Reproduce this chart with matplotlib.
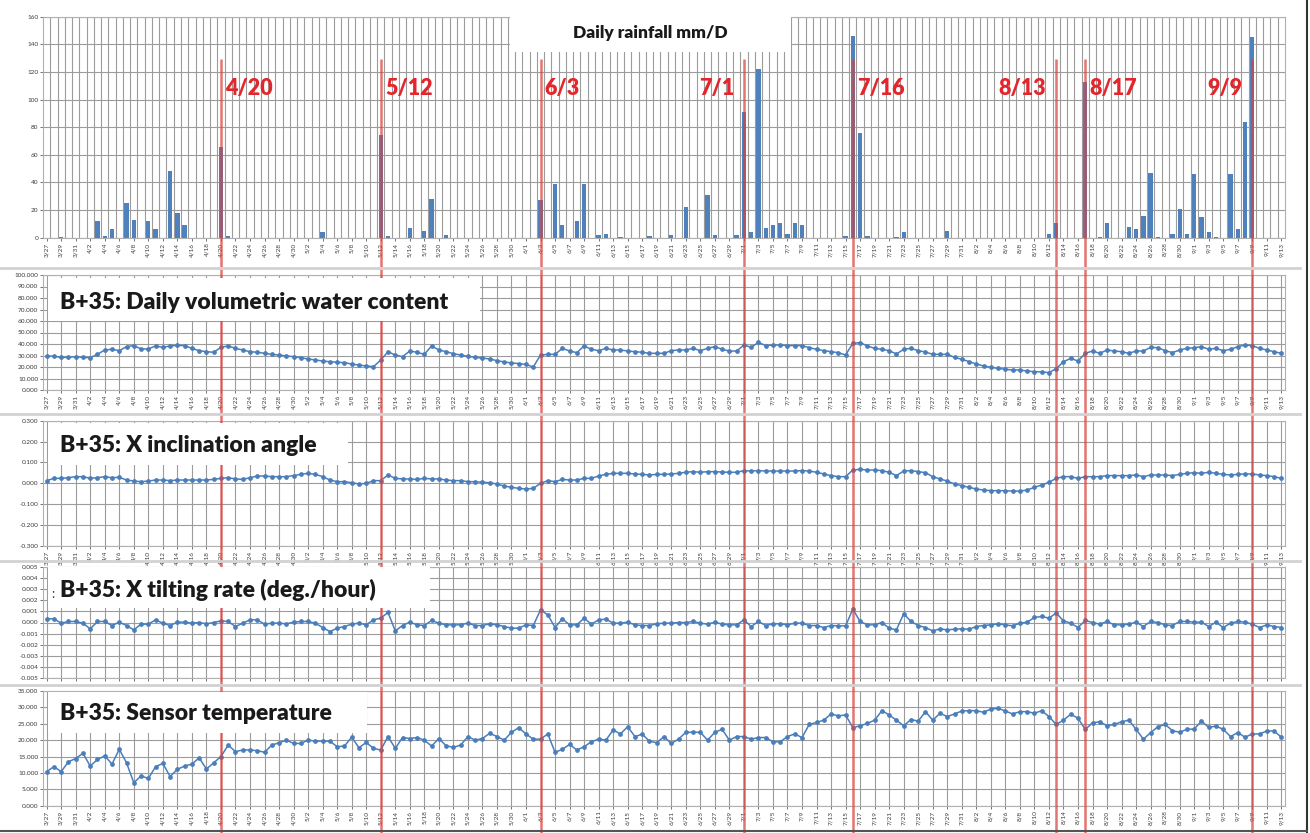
import matplotlib
matplotlib.use('Agg')
import matplotlib.pyplot as plt
import numpy as np
import pandas as pd
from matplotlib.patches import Rectangle
from matplotlib.lines import Line2D

# ---------------- data ----------------
dates = pd.date_range('2014-03-27', '2014-09-13', freq='D')
date_labels = [f"{d.month}/{d.day}" for d in dates]

rainfall = [0, 0, 0.5, 0, 0, 0, 0, 12, 1, 6,
            0, 25, 13, 0, 12, 6, 0, 48, 18, 9,
            0, 0, 0, 0, 66, 1, 0, 0, 0, 0,
            0, 0, 0, 0, 0, 0, 0, 0, 4, 0,
            0, 0, 0, 0, 0, 0, 74, 1, 0, 0,
            7, 0, 5, 28, 0, 2, 0, 0, 0, 0,
            0, 0, 0, 0, 0, 0, 0, 0, 27, 0,
            39, 9, 0, 12, 39, 0, 2, 3, 0, 0.5,
            0, 0, 0, 1, 0, 0, 2, 0, 22, 0,
            0, 31, 2, 0, 0, 2, 91, 4, 122, 7,
            9, 11, 3, 11, 9, 0, 0, 0, 0, 0,
            1, 146, 76, 1, 0, 0, 0, 0.5, 4, 0,
            0, 0, 0, 0, 5, 0, 0, 0, 0, 0,
            0, 0, 0, 0, 0, 0, 0, 0, 3, 11,
            0, 0, 0, 113, 0, 0.5, 11, 0, 0, 8,
            6, 16, 47, 0.5, 0, 3, 21, 3, 46, 15,
            4, 0.5, 0, 46, 6, 84, 145, 0, 0, 0,
            0]

vwc = [29.6, 29.3, 28.4, 28.4, 29.0, 28.4, 28.1, 31.0, 34.8, 35.4,
       34.2, 37.7, 38.6, 35.7, 35.7, 38.3, 37.1, 38.3, 38.8, 38.6,
       36.2, 34.2, 33.3, 32.8, 37.1, 38.3, 36.2, 34.8, 33.3, 32.8,
       31.9, 31.0, 30.4, 29.6, 29.0, 28.1, 27.0, 26.1, 25.2, 24.6,
       24.1, 23.8, 22.6, 21.7, 20.9, 20.3, 26.1, 33.3, 30.4, 29.0,
       33.9, 32.8, 31.0, 38.3, 34.8, 33.3, 31.6, 30.4, 29.3, 28.4,
       27.8, 27.0, 25.5, 24.4, 23.5, 23.0, 22.2, 20.0, 30.4, 31.0,
       31.0, 36.2, 33.9, 32.5, 38.3, 35.4, 34.2, 36.2, 34.8, 34.8,
       33.9, 33.3, 32.8, 31.9, 31.9, 31.9, 34.2, 34.8, 34.8, 36.2,
       34.2, 36.2, 37.7, 35.4, 33.9, 33.9, 39.1, 37.1, 41.4, 38.6,
       39.1, 39.1, 38.6, 38.6, 38.6, 36.8, 35.4, 34.2, 33.3, 32.5,
       30.4, 40.6, 41.2, 38.3, 36.2, 35.4, 34.2, 31.3, 35.4, 36.2,
       34.2, 33.0, 31.0, 31.0, 31.0, 28.4, 26.7, 24.6, 22.6, 20.9,
       19.7, 18.8, 18.0, 17.4, 17.4, 16.5, 15.9, 15.7, 15.1, 18.6,
       24.6, 27.5, 25.2, 31.9, 33.9, 31.9, 34.8, 33.9, 33.3, 31.9,
       33.9, 33.9, 37.1, 36.8, 34.2, 32.5, 34.8, 36.2, 36.8, 37.7,
       35.4, 36.2, 34.2, 35.4, 37.7, 39.1, 38.6, 36.2, 34.8, 33.3,
       31.9]

inclination = [0.013, 0.024, 0.024, 0.027, 0.032, 0.032, 0.024, 0.027, 0.032, 0.027,
               0.029, 0.016, 0.011, 0.008, 0.011, 0.016, 0.016, 0.013, 0.016, 0.016,
               0.016, 0.016, 0.016, 0.019, 0.024, 0.027, 0.021, 0.019, 0.027, 0.035,
               0.035, 0.032, 0.032, 0.032, 0.037, 0.043, 0.048, 0.043, 0.032, 0.016,
               0.008, 0.008, 0.003, -0.003, 0.000, 0.013, 0.013, 0.040, 0.024, 0.021,
               0.021, 0.019, 0.024, 0.021, 0.021, 0.016, 0.013, 0.013, 0.008, 0.008,
               0.005, 0.003, -0.003, -0.013, -0.019, -0.024, -0.027, -0.024, 0.000, 0.013,
               0.008, 0.019, 0.016, 0.016, 0.024, 0.024, 0.035, 0.043, 0.048, 0.048,
               0.048, 0.045, 0.043, 0.040, 0.043, 0.043, 0.045, 0.048, 0.053, 0.056,
               0.053, 0.056, 0.056, 0.054, 0.053, 0.053, 0.061, 0.059, 0.061, 0.059,
               0.059, 0.059, 0.059, 0.059, 0.061, 0.059, 0.053, 0.045, 0.037, 0.032,
               0.032, 0.064, 0.067, 0.064, 0.064, 0.061, 0.053, 0.037, 0.059, 0.061,
               0.056, 0.051, 0.032, 0.021, 0.011, -0.003, -0.011, -0.019, -0.027, -0.032,
               -0.035, -0.035, -0.035, -0.037, -0.037, -0.032, -0.019, -0.008, 0.005, 0.024,
               0.032, 0.032, 0.024, 0.032, 0.032, 0.032, 0.037, 0.037, 0.037, 0.037,
               0.040, 0.032, 0.040, 0.040, 0.040, 0.037, 0.043, 0.048, 0.051, 0.048,
               0.053, 0.048, 0.043, 0.040, 0.043, 0.045, 0.045, 0.040, 0.037, 0.032,
               0.024]

tilt_rate = [0.00033, 0.00033, -0.00006, 0.00009, 0.00009, -0.00006, -0.00057, 0.00009, 0.00009, -0.00027,
             0.00003, -0.00027, -0.00066, -0.00015, -0.00015, 0.00024, -0.00006, -0.00027, 0.00003, 0.00003,
             -0.00006, 0.00000, -0.00012, 0.00000, 0.00015, 0.00009, -0.00036, -0.00006, 0.00024, 0.00024,
             -0.00015, -0.00006, -0.00006, -0.00012, 0.00003, 0.00009, 0.00009, -0.00006, -0.00045, -0.00081,
             -0.00051, -0.00036, -0.00015, -0.00006, -0.00021, 0.00024, 0.00039, 0.00090, -0.00075, -0.00027,
             0.00003, -0.00021, -0.00027, 0.00018, -0.00006, -0.00021, -0.00021, -0.00021, -0.00006, -0.00027,
             -0.00027, -0.00012, -0.00021, -0.00036, -0.00051, -0.00051, -0.00021, -0.00027, 0.00113, 0.00069,
             -0.00045, 0.00033, -0.00021, -0.00021, 0.00039, -0.00015, 0.00024, 0.00030, -0.00006, -0.00006,
             0.00003, -0.00021, -0.00027, -0.00027, -0.00012, -0.00006, -0.00006, 0.00000, 0.00000, 0.00009,
             -0.00006, -0.00015, 0.00003, -0.00015, -0.00021, -0.00021, 0.00024, -0.00036, 0.00009, -0.00027,
             -0.00012, -0.00012, -0.00021, -0.00006, -0.00006, -0.00027, -0.00027, -0.00045, -0.00027, -0.00030,
             -0.00030, 0.00119, 0.00009, -0.00021, -0.00021, 0.00000, -0.00051, -0.00066, 0.00078, 0.00009,
             -0.00027, -0.00045, -0.00075, -0.00057, -0.00066, -0.00060, -0.00057, -0.00060, -0.00036, -0.00027,
             -0.00021, -0.00012, -0.00021, -0.00030, -0.00006, 0.00003, 0.00045, 0.00054, 0.00039, 0.00084,
             0.00015, -0.00006, -0.00045, 0.00018, 0.00000, -0.00015, 0.00009, -0.00021, -0.00021, -0.00015,
             0.00003, -0.00036, 0.00009, 0.00000, -0.00021, -0.00027, 0.00009, 0.00009, 0.00003, 0.00003,
             -0.00036, 0.00003, -0.00045, -0.00006, 0.00009, 0.00003, -0.00015, -0.00045, -0.00021, -0.00036,
             -0.00045]

temperature = [10.4, 11.9, 10.4, 13.4, 14.4, 16.0, 12.1, 14.1, 15.2, 12.7,
               17.2, 13.1, 7.0, 9.1, 8.3, 11.9, 12.9, 8.9, 11.1, 12.1,
               12.7, 14.6, 11.2, 13.1, 15.0, 18.5, 16.5, 17.0, 17.0, 16.8,
               16.3, 18.5, 19.2, 20.0, 19.0, 19.0, 20.0, 19.7, 19.7, 19.7,
               18.0, 18.2, 20.9, 17.7, 19.3, 17.5, 17.0, 21.1, 17.5, 20.8,
               20.5, 20.8, 20.0, 18.2, 20.5, 18.3, 17.8, 18.5, 21.1, 20.0,
               20.5, 22.1, 21.1, 20.0, 22.4, 23.8, 21.9, 20.3, 20.3, 21.9,
               16.3, 17.2, 18.7, 17.0, 18.0, 19.5, 20.3, 20.0, 23.1, 21.9,
               24.1, 21.1, 21.8, 19.7, 19.2, 21.1, 19.0, 20.3, 22.4, 22.4,
               22.4, 20.0, 22.4, 23.3, 20.0, 21.1, 21.1, 20.3, 20.8, 20.8,
               19.5, 19.5, 21.1, 21.9, 20.8, 24.8, 25.4, 26.1, 28.0, 27.4,
               27.7, 23.8, 24.4, 25.1, 26.1, 29.0, 27.7, 26.1, 24.4, 26.3,
               25.8, 28.7, 26.1, 28.2, 27.2, 28.0, 28.9, 29.0, 29.0, 28.5,
               29.5, 29.7, 28.9, 28.0, 28.7, 28.7, 28.2, 29.0, 27.2, 24.8,
               26.1, 27.9, 26.7, 23.3, 25.3, 25.6, 24.4, 24.8, 25.6, 26.1,
               23.3, 20.3, 22.3, 24.1, 24.8, 22.9, 22.4, 23.3, 23.4, 25.8,
               23.9, 24.3, 23.3, 21.1, 22.3, 20.9, 21.9, 21.9, 22.8, 22.8,
               20.9]

event_dates = ['4/20', '5/12', '6/3', '7/1', '7/16', '8/13', '8/17', '9/9']
event_label_side = ['right', 'right', 'right', 'left', 'right', 'left', 'right', 'left']

rain_title = 'Daily rainfall mm/D'
panel_titles = ['B+35: Daily volumetric water content',
                'B+35: X inclination angle',
                'B+35: X tilting rate (deg./hour)',
                'B+35: Sensor temperature']

# ---------------- styling ----------------
W, H = 1310, 833
BLUE = '#4a7ebb'
RED = '#d9403c'
GRID = '#9c9c9c'
TXT = '#3a3a3a'
FONT = ['Lato', 'DejaVu Sans']
plt.rcParams['font.family'] = FONT

fig = plt.figure(figsize=(W / 100, H / 100), dpi=100)
fig.patch.set_facecolor('white')

L, R = 43, 1285


def ax_at(top, bottom):
    return fig.add_axes([L / W, 1 - bottom / H, (R - L) / W, (bottom - top) / H])


x = np.arange(len(dates))
even = x[::2]


def style(ax, show_x=True):
    for s in ax.spines.values():
        s.set_color('#b0b0b0')
        s.set_linewidth(0.8)
    ax.tick_params(axis='both', labelsize=4.6, colors=TXT, length=2, width=0.5, pad=1.5)
    ax.set_xlim(-0.5, len(dates) - 0.5)
    ax.set_xticks(even)
    if show_x:
        ax.set_xticklabels([date_labels[i] for i in even], rotation=90)
    else:
        ax.set_xticklabels([])
    ax.set_axisbelow(True)


# Panel 1: rainfall
ax1 = ax_at(16.7, 237.7)
style(ax1)
ax1.bar(x, rainfall, width=0.6, color='#4f81bd', zorder=2)
ax1.set_ylim(0, 160)
ax1.set_yticks(np.arange(0, 161, 20))
ax1.set_xticks(x[:-1] + 0.5, minor=True)
ax1.tick_params(axis='x', which='minor', length=0)
ax1.grid(which='minor', axis='x', color=GRID, lw=0.8)
ax1.grid(which='major', axis='y', color=GRID, lw=0.8)

# Lower panels
specs = [
    (275, 390, vwc, (0, 100), np.arange(0, 101, 10), '{:.3f}', True),
    (420.7, 546, inclination, (-0.3, 0.3), np.round(np.arange(-0.3, 0.301, 0.1), 3), '{:.3f}', True),
    (566.7, 678.3, tilt_rate, (-0.005, 0.005), np.round(np.arange(-0.005, 0.00501, 0.001), 4), '{:.3f}', False),
    (691, 805.7, temperature, (0, 35), np.arange(0, 36, 5), '{:.3f}', True),
]
axes = [ax1]
for top, bot, series, ylim, yt, fmt, showx in specs:
    ax = ax_at(top, bot)
    style(ax, showx)
    ax.plot(x, series, color=BLUE, lw=1.1, marker='o', ms=2.4, zorder=3)
    ax.set_ylim(*ylim)
    ax.set_yticks(yt)
    ax.set_yticklabels([fmt.format(v) for v in yt])
    ax.grid(axis='both', color=GRID, lw=0.8)
    axes.append(ax)

# Event lines across all panels (overlay axes in pixel space vertically)
ov = fig.add_axes([L / W, 0, (R - L) / W, 1], zorder=1)
ov.set_xlim(-0.5, len(dates) - 0.5)
ov.set_ylim(H, 0)
ov.axis('off')
ov.patch.set_alpha(0)
for d in event_dates:
    i = date_labels.index(d)
    ov.vlines(i, 59, H, color=RED, lw=1.8, alpha=0.72)

# event labels
for d, side in zip(event_dates, event_label_side):
    i = date_labels.index(d)
    off = 3 if side == 'right' else -7
    ax1.annotate(d, xy=(i, 107.7), xytext=(off, 0), textcoords='offset points',
                 ha='left' if side == 'right' else 'right', va='center',
                 color='#e3262b', fontsize=15.5, fontweight='heavy', zorder=5)


# white title boxes
def box(x0, y0, x1, y1):
    r = Rectangle((x0 / W, 1 - y1 / H), (x1 - x0) / W, (y1 - y0) / H,
                  transform=fig.transFigure, facecolor='white', edgecolor='none', zorder=2)
    fig.add_artist(r)


box(510, 15, 791, 52)
fig.text(650 / W, 1 - 33 / H, rain_title, ha='center', va='center', fontsize=12.5,
         fontweight='heavy', color='#1a1a1a', zorder=3)

title_boxes = [(48, 278, 480, 321), (48, 423, 348, 465), (48, 567, 430, 608), (48, 692, 367, 733)]
title_y = [302, 446, 590, 714]
for (bx0, by0, bx1, by1), ty, t in zip(title_boxes, title_y, panel_titles):
    box(bx0, by0, bx1, by1)
    fig.text(60 / W, 1 - ty / H, t, ha='left', va='center', fontsize=16.5,
             fontweight='heavy', color='#1a1a1a', zorder=3)
fig.text(51 / W, 1 - 594 / H, ':', ha='left', va='center', fontsize=9, color='#333333', zorder=3)

# chart separators and frame
for yy in [268, 414, 561, 685]:
    fig.add_artist(Line2D([0, 1300 / W], [1 - yy / H] * 2, color='#d2d2d2', lw=2, zorder=2))
fig.add_artist(Line2D([1307 / W] * 2, [0, 1], color='#333333', lw=1.5, zorder=4))
fig.add_artist(Line2D([0, 1307 / W], [1 - 831 / H] * 2, color='#555555', lw=1.5, zorder=4))

fig.savefig('out.png', dpi=100, facecolor='white')
